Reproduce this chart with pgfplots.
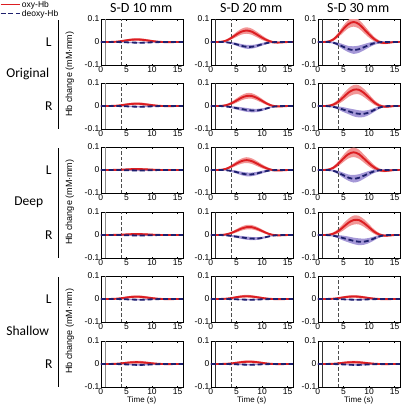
\documentclass[border=0pt]{standalone}
\usepackage{fontspec}
\setmainfont{Carlito}
\newfontfamily\arial{Liberation Sans}
\usepackage{pgfplots}
\pgfplotsset{compat=1.18}
\usepackage{pgfplotstable}
\usepgfplotslibrary{fillbetween}

\definecolor{oxyc}{RGB}{220,30,34}
\definecolor{oxyb}{RGB}{242,150,150}
\definecolor{deoc}{RGB}{30,32,110}
\definecolor{deob}{RGB}{165,152,215}

\pgfplotstableread[row sep=\\]{
t o os d ds\\
0 0 0.0008 0 0.0004\\
1 0 0.0008 0 0.0004\\
2 0.0002 0.0012 0 0.0006\\
3 0.0013 0.0018 -0.0002 0.0009\\
4 0.0039 0.003 -0.0006 0.0015\\
5 0.0072 0.0045 -0.0014 0.0022\\
6 0.0099 0.0054 -0.0023 0.0027\\
7 0.011 0.006 -0.0029 0.003\\
8 0.0099 0.0057 -0.0029 0.0028\\
9 0.0072 0.0051 -0.0023 0.0025\\
10 0.0042 0.0042 -0.0014 0.0021\\
11 0.0017 0.003 -0.0006 0.0015\\
12 0 0.0021 -0.0002 0.001\\
13 -0.0006 0.0015 0 0.0008\\
14 -0.0003 0.0012 0 0.0006\\
15 0 0.0009 0 0.0004\\
16 0 0.0009 0 0.0004\\
}\OLten

\pgfplotstableread[row sep=\\]{
t o os d ds\\
0 0 0.0021 0 0.0013\\
1 0 0.0021 0 0.0013\\
2 0.001 0.0028 0 0.0017\\
3 0.006 0.0042 -0.0011 0.0025\\
4 0.0175 0.007 -0.0044 0.0042\\
5 0.0325 0.0105 -0.0099 0.0063\\
6 0.045 0.0126 -0.0165 0.0076\\
7 0.05 0.014 -0.0209 0.0084\\
8 0.045 0.0133 -0.0209 0.008\\
9 0.0325 0.0119 -0.0165 0.0071\\
10 0.019 0.0098 -0.0099 0.0059\\
11 0.0075 0.007 -0.0044 0.0042\\
12 0 0.0049 -0.0011 0.0029\\
13 -0.0025 0.0035 0 0.0021\\
14 -0.0015 0.0028 0 0.0017\\
15 0 0.0021 0 0.0013\\
16 0 0.0021 0 0.0013\\
}\OLtwenty

\pgfplotstableread[row sep=\\]{
t o os d ds\\
0 0 0.0031 0 0.0022\\
1 0 0.0031 0 0.0022\\
2 0.0017 0.0041 0 0.003\\
3 0.0104 0.0061 -0.0028 0.0045\\
4 0.0305 0.0101 -0.0105 0.0075\\
5 0.0566 0.0153 -0.021 0.0112\\
6 0.0783 0.0182 -0.0308 0.0135\\
7 0.087 0.0203 -0.035 0.0165\\
8 0.0783 0.0193 -0.0315 0.0158\\
9 0.0566 0.0173 -0.0228 0.0135\\
10 0.0331 0.0142 -0.0133 0.0105\\
11 0.0131 0.0101 -0.0053 0.0075\\
12 0 0.0072 -0.0011 0.0052\\
13 -0.0044 0.0051 0 0.0038\\
14 -0.0026 0.0041 0 0.003\\
15 0 0.0031 0 0.0022\\
16 0 0.0031 0 0.0022\\
}\OLthirty

\pgfplotstableread[row sep=\\]{
t o os d ds\\
0 0 0.0008 0 0.0004\\
1 0 0.0008 0 0.0004\\
2 0.0002 0.0012 0 0.0006\\
3 0.0012 0.0018 -0.0002 0.0009\\
4 0.0035 0.003 -0.0006 0.0015\\
5 0.0065 0.0045 -0.0014 0.0022\\
6 0.009 0.0054 -0.0023 0.0027\\
7 0.01 0.006 -0.0029 0.003\\
8 0.009 0.0057 -0.0029 0.0028\\
9 0.0065 0.0051 -0.0023 0.0025\\
10 0.0038 0.0042 -0.0014 0.0021\\
11 0.0015 0.003 -0.0006 0.0015\\
12 0 0.0021 -0.0002 0.001\\
13 -0.0005 0.0015 0 0.0008\\
14 -0.0003 0.0012 0 0.0006\\
15 0 0.0009 0 0.0004\\
16 0 0.0009 0 0.0004\\
}\ORten

\pgfplotstableread[row sep=\\]{
t o os d ds\\
0 0 0.002 0 0.0013\\
1 0 0.002 0 0.0013\\
2 0.0005 0.0025 -0.0004 0.0017\\
3 0.0036 0.0038 -0.002 0.0025\\
4 0.0113 0.0063 -0.005 0.0042\\
5 0.0234 0.0095 -0.009 0.0063\\
6 0.036 0.0113 -0.013 0.0076\\
7 0.0437 0.0126 -0.017 0.0084\\
8 0.0437 0.012 -0.0194 0.008\\
9 0.0351 0.0108 -0.0194 0.0071\\
10 0.0225 0.0088 -0.016 0.0059\\
11 0.0099 0.0063 -0.01 0.0042\\
12 0.0014 0.0045 -0.004 0.0029\\
13 -0.0018 0.0032 -0.001 0.0021\\
14 -0.0014 0.0025 0 0.0017\\
15 0 0.002 0 0.0013\\
16 0 0.002 0 0.0013\\
}\ORtwenty

\pgfplotstableread[row sep=\\]{
t o os d ds\\
0 0 0.0031 0 0.0021\\
1 0 0.0031 0 0.0021\\
2 0.0007 0.0042 -0.0007 0.0028\\
3 0.0058 0.0062 -0.0035 0.0042\\
4 0.0183 0.0104 -0.0088 0.007\\
5 0.038 0.0156 -0.0158 0.0105\\
6 0.0584 0.0187 -0.0228 0.0126\\
7 0.0708 0.0208 -0.0298 0.0154\\
8 0.0708 0.0198 -0.034 0.0154\\
9 0.0569 0.0177 -0.034 0.014\\
10 0.0365 0.0146 -0.028 0.0112\\
11 0.0161 0.0104 -0.0175 0.0084\\
12 0.0022 0.0073 -0.007 0.0056\\
13 -0.0029 0.0052 -0.0018 0.0035\\
14 -0.0022 0.0042 0 0.0028\\
15 0 0.0031 0 0.0021\\
16 0 0.0031 0 0.0021\\
}\ORthirty

\pgfplotstableread[row sep=\\]{
t o os d ds\\
0 0 0.0007 0 0.0004\\
1 0 0.0007 0 0.0004\\
2 0.0001 0.0009 0 0.0006\\
3 0.0005 0.0013 -0.0001 0.0009\\
4 0.0014 0.0022 -0.0004 0.0015\\
5 0.0026 0.0033 -0.0009 0.0022\\
6 0.0036 0.004 -0.0015 0.0027\\
7 0.004 0.0045 -0.0019 0.003\\
8 0.0036 0.0043 -0.0019 0.0028\\
9 0.0026 0.0039 -0.0015 0.0025\\
10 0.0015 0.0032 -0.0009 0.0021\\
11 0.0006 0.0022 -0.0004 0.0015\\
12 0 0.0016 -0.0001 0.001\\
13 -0.0002 0.0012 0 0.0008\\
14 -0.0001 0.0009 0 0.0006\\
15 0 0.0007 0 0.0004\\
16 0 0.0007 0 0.0004\\
}\DLten

\pgfplotstableread[row sep=\\]{
t o os d ds\\
0 0 0.002 0 0.0013\\
1 0 0.002 0 0.0013\\
2 0.0009 0.0025 0 0.0017\\
3 0.0052 0.0038 -0.001 0.0025\\
4 0.0151 0.0063 -0.004 0.0042\\
5 0.028 0.0095 -0.009 0.0063\\
6 0.0387 0.0113 -0.015 0.0076\\
7 0.043 0.0126 -0.019 0.0084\\
8 0.0387 0.012 -0.019 0.008\\
9 0.028 0.0108 -0.015 0.0071\\
10 0.0163 0.0088 -0.009 0.0059\\
11 0.0065 0.0063 -0.004 0.0042\\
12 0 0.0045 -0.001 0.0029\\
13 -0.0022 0.0032 0 0.0021\\
14 -0.0013 0.0025 0 0.0017\\
15 0 0.002 0 0.0013\\
16 0 0.002 0 0.0013\\
}\DLtwenty

\pgfplotstableread[row sep=\\]{
t o os d ds\\
0 0 0.0031 0 0.0022\\
1 0 0.0031 0 0.0022\\
2 0.0015 0.0042 0 0.003\\
3 0.0092 0.0062 -0.003 0.0045\\
4 0.027 0.0104 -0.0114 0.0075\\
5 0.05 0.0156 -0.0228 0.0112\\
6 0.0693 0.0187 -0.0334 0.0135\\
7 0.077 0.0208 -0.038 0.0165\\
8 0.0693 0.0198 -0.0342 0.0158\\
9 0.05 0.0177 -0.0247 0.0135\\
10 0.0293 0.0146 -0.0144 0.0105\\
11 0.0116 0.0104 -0.0057 0.0075\\
12 0 0.0073 -0.0011 0.0052\\
13 -0.0039 0.0052 0 0.0038\\
14 -0.0023 0.0042 0 0.003\\
15 0 0.0031 0 0.0022\\
16 0 0.0031 0 0.0022\\
}\DLthirty

\pgfplotstableread[row sep=\\]{
t o os d ds\\
0 0 0.0015 0 0.0011\\
1 0 0.0015 0 0.0011\\
2 0.0004 0.002 -0.0003 0.0014\\
3 0.0028 0.0029 -0.0016 0.0021\\
4 0.0088 0.0049 -0.004 0.0035\\
5 0.0182 0.0074 -0.0072 0.0053\\
6 0.028 0.0088 -0.0104 0.0063\\
7 0.034 0.0098 -0.0136 0.007\\
8 0.034 0.0094 -0.0155 0.0067\\
9 0.0273 0.0084 -0.0155 0.006\\
10 0.0175 0.0069 -0.0128 0.0049\\
11 0.0077 0.0049 -0.008 0.0035\\
12 0.0011 0.0035 -0.0032 0.0025\\
13 -0.0014 0.0025 -0.0008 0.0018\\
14 -0.0011 0.002 0 0.0014\\
15 0 0.0015 0 0.0011\\
16 0 0.0015 0 0.0011\\
}\DRtwenty

\pgfplotstableread[row sep=\\]{
t o os d ds\\
0 0 0.0029 0 0.0021\\
1 0 0.0029 0 0.0021\\
2 0.0007 0.0039 -0.0006 0.0028\\
3 0.0054 0.0059 -0.003 0.0042\\
4 0.0168 0.0098 -0.0075 0.007\\
5 0.0348 0.0147 -0.0135 0.0105\\
6 0.0536 0.0176 -0.0195 0.0126\\
7 0.065 0.0196 -0.0255 0.014\\
8 0.065 0.0186 -0.0291 0.0147\\
9 0.0523 0.0167 -0.0291 0.0133\\
10 0.0335 0.0137 -0.024 0.0112\\
11 0.0147 0.0098 -0.015 0.0084\\
12 0.002 0.0069 -0.006 0.0056\\
13 -0.0027 0.0049 -0.0015 0.0035\\
14 -0.002 0.0039 0 0.0028\\
15 0 0.0029 0 0.0021\\
16 0 0.0029 0 0.0021\\
}\DRthirty

\pgfplotstableread[row sep=\\]{
t o os d ds\\
0 0 0.0008 0 0.0004\\
1 0 0.0008 0 0.0004\\
2 0.0002 0.0012 0 0.0006\\
3 0.0014 0.0018 -0.0002 0.0009\\
4 0.0042 0.003 -0.0006 0.0015\\
5 0.0078 0.0045 -0.0014 0.0022\\
6 0.0108 0.0054 -0.0023 0.0027\\
7 0.012 0.006 -0.0029 0.003\\
8 0.0108 0.0057 -0.0029 0.0028\\
9 0.0078 0.0051 -0.0023 0.0025\\
10 0.0046 0.0042 -0.0014 0.0021\\
11 0.0018 0.003 -0.0006 0.0015\\
12 0 0.0021 -0.0002 0.001\\
13 -0.0006 0.0015 0 0.0008\\
14 -0.0004 0.0012 0 0.0006\\
15 0 0.0009 0 0.0004\\
16 0 0.0009 0 0.0004\\
}\SLtwenty

\pgfplotstableread[row sep=\\]{
t o os d ds\\
0 0 0.0008 0 0.0004\\
1 0 0.0008 0 0.0004\\
2 0.0002 0.0012 0 0.0006\\
3 0.001 0.0018 -0.0002 0.0009\\
4 0.0028 0.003 -0.0008 0.0015\\
5 0.0052 0.0045 -0.0018 0.0022\\
6 0.0072 0.0054 -0.003 0.0027\\
7 0.008 0.006 -0.0038 0.003\\
8 0.0072 0.0057 -0.0038 0.0028\\
9 0.0052 0.0051 -0.003 0.0025\\
10 0.003 0.0042 -0.0018 0.0021\\
11 0.0012 0.003 -0.0008 0.0015\\
12 0 0.0021 -0.0002 0.001\\
13 -0.0004 0.0015 0 0.0008\\
14 -0.0002 0.0012 0 0.0006\\
15 0 0.0009 0 0.0004\\
16 0 0.0009 0 0.0004\\
}\SRten

\pgfplotstableread[row sep=\\]{
t o os d ds\\
0 0 0.0008 0 0.0004\\
1 0 0.0008 0 0.0004\\
2 0.0001 0.0012 0 0.0006\\
3 0.0008 0.0018 -0.0002 0.0009\\
4 0.0025 0.003 -0.0006 0.0015\\
5 0.0052 0.0045 -0.0014 0.0022\\
6 0.008 0.0054 -0.0023 0.0027\\
7 0.0097 0.006 -0.0029 0.003\\
8 0.0097 0.0057 -0.0029 0.0028\\
9 0.0078 0.0051 -0.0023 0.0025\\
10 0.005 0.0042 -0.0014 0.0021\\
11 0.0022 0.003 -0.0006 0.0015\\
12 0.0003 0.0021 -0.0002 0.001\\
13 -0.0004 0.0015 0 0.0008\\
14 -0.0003 0.0012 0 0.0006\\
15 0 0.0009 0 0.0004\\
16 0 0.0009 0 0.0004\\
}\SRtwenty

\pgfplotsset{
  panel/.style={
    scale only axis, width=82pt, height=46pt, anchor=north west,
    xmin=0, xmax=16, ymin=-0.1, ymax=0.1,
    xtick={0,5,10,15}, xticklabels={0,5,10,15},
    ytick={-0.1,0,0.1}, yticklabels={-0.1,0,0.1},
    tick align=inside, major tick length=1.5pt,
    tick style={black, line width=0.4pt},
    axis line style={line width=0.5pt},
    tick label style={font=\arial\fontsize{8.5}{9}\selectfont},
    yticklabel style={inner sep=1.2pt},
    xticklabel style={inner sep=1.2pt},
    xlabel style={font=\arial\fontsize{8}{8}\selectfont, inner sep=1pt},
  },
  oxyline/.style={oxyc, line width=1.9pt, smooth},
  deoline/.style={deoc, line width=1.8pt, dash pattern=on 5pt off 2.8pt, smooth},
}

\newcommand{\panel}[5]{%
\begin{axis}[panel, at={(#1pt,-#2pt)}, #4]
\addplot[name path=ou, draw=none, smooth] table[x=t, y expr=\thisrow{o}+\thisrow{os}] {#3};
\addplot[name path=ol, draw=none, smooth] table[x=t, y expr=\thisrow{o}-\thisrow{os}] {#3};
\addplot[fill=oxyb, draw=none] fill between[of=ou and ol];
\addplot[name path=du, draw=none, smooth] table[x=t, y expr=\thisrow{d}+\thisrow{ds}] {#3};
\addplot[name path=dl, draw=none, smooth] table[x=t, y expr=\thisrow{d}-\thisrow{ds}] {#3};
\addplot[fill=deob, draw=none] fill between[of=du and dl];
\addplot[#5, line width=0.8pt] coordinates {(1,-0.1) (1,0.1)};
\addplot[black!70, line width=0.6pt, dash pattern=on 3.5pt off 2pt] coordinates {(4,-0.1) (4,0.1)};
\addplot[oxyline] table[x=t, y=o] {#3};
\addplot[deoline] table[x=t, y=d] {#3};
\end{axis}}

\begin{document}
\begin{tikzpicture}

% legend
\draw[oxyc, line width=1.5pt] (0pt,-4.5pt) -- (19pt,-4.5pt);
\node[anchor=west, inner sep=0pt] at (21pt,-5pt) {\arial\fontsize{8.5}{9}\selectfont oxy-Hb};
\draw[deoc, line width=1.5pt, dash pattern=on 5pt off 2.6pt] (0pt,-13.5pt) -- (19pt,-13.5pt);
\node[anchor=west, inner sep=0pt] at (21pt,-14pt) {\arial\fontsize{8.5}{9}\selectfont deoxy-Hb};

% column titles
\node at (140.5pt,-8pt) {\fontsize{14}{14}\selectfont S-D 10 mm};
\node at (250.5pt,-8pt) {\fontsize{14}{14}\selectfont S-D 20 mm};
\node at (357.5pt,-8pt) {\fontsize{14}{14}\selectfont S-D 30 mm};

% group labels
\node at (27pt,-74pt) {\fontsize{13.5}{14}\selectfont Original};
\node at (28pt,-202pt) {\fontsize{13.5}{14}\selectfont Deep};
\node at (27pt,-331pt) {\fontsize{13.5}{14}\selectfont Shallow};
\foreach \yy in {42,170,299} {\node at (48pt,-\yy pt) {\fontsize{13.5}{14}\selectfont L};}
\foreach \yy in {106,235,364} {\node at (48pt,-\yy pt) {\fontsize{13.5}{14}\selectfont R};}
\draw[line width=1pt] (58pt,-20pt) -- (58pt,-129pt);
\draw[line width=1pt] (58pt,-148pt) -- (58pt,-258pt);
\draw[line width=1pt] (58pt,-277pt) -- (58pt,-387pt);
\foreach \yy in {74,202,331} {\node[rotate=90] at (69pt,-\yy pt) {\arial\fontsize{9}{9}\selectfont Hb change (mM·mm)};}

% panels
\panel{100}{19}{\OLten}{}{black!45}
\panel{210}{19}{\OLtwenty}{}{black!80}
\panel{317}{19}{\OLthirty}{}{black!80}
\panel{100}{83}{\ORten}{}{black!45}
\panel{210}{83}{\ORtwenty}{}{black!80}
\panel{317}{83}{\ORthirty}{}{black!80}
\panel{100}{147}{\DLten}{}{black!45}
\panel{210}{147}{\DLtwenty}{}{black!80}
\panel{317}{147}{\DLthirty}{}{black!80}
\panel{100}{212}{\DLten}{}{black!45}
\panel{210}{212}{\DRtwenty}{}{black!80}
\panel{317}{212}{\DRthirty}{}{black!80}
\panel{100}{276}{\ORten}{}{black!45}
\panel{210}{276}{\SLtwenty}{}{black!80}
\panel{317}{276}{\OLten}{}{black!80}
\panel{100}{341}{\SRten}{xlabel={Time (s)}}{black!45}
\panel{210}{341}{\SRtwenty}{xlabel={Time (s)}}{black!80}
\panel{317}{341}{\SRten}{xlabel={Time (s)}}{black!80}

\path (0pt,0pt) rectangle (400pt,-410pt);
\end{tikzpicture}
\end{document}
